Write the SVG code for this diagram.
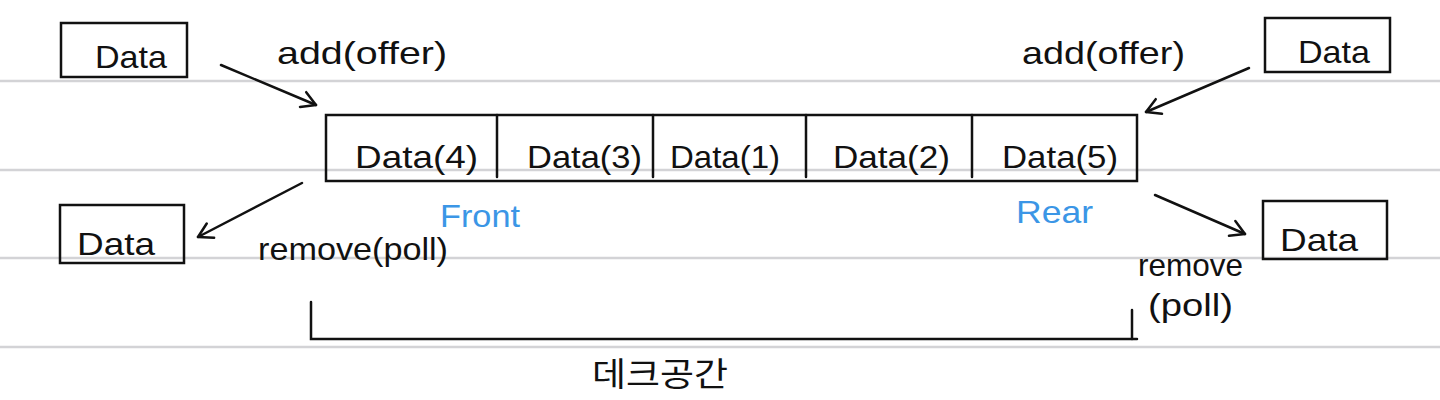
<svg xmlns="http://www.w3.org/2000/svg" width="1440" height="400" viewBox="0 0 1440 400">
<defs>
<style>
.rule{stroke:#d3d3d6;stroke-width:2.5}
.box{fill:none;stroke:#111;stroke-width:2.5}
.ln{stroke:#111;stroke-width:2.5;fill:none;stroke-linecap:round}
.t{font-family:"Liberation Sans","Noto Sans CJK KR",sans-serif;font-size:32px;fill:#111}
.blue{fill:#3b96e6}
.kr{font-family:"Noto Sans CJK KR",sans-serif;font-size:33px;fill:#111}
</style>
<marker id="arr" viewBox="0 0 20 20" refX="18" refY="10" markerWidth="20" markerHeight="20" markerUnits="userSpaceOnUse" orient="auto">
<path d="M4,2 L18,10 L4,18" fill="none" stroke="#111" stroke-width="2.5" stroke-linecap="round" stroke-linejoin="round"/>
</marker>
</defs>
<rect width="1440" height="400" fill="#fff"/>
<g id="rules">
<line class="rule" x1="0" y1="81" x2="1440" y2="81"/>
<line class="rule" x1="0" y1="170" x2="1440" y2="170"/>
<line class="rule" x1="0" y1="258" x2="1440" y2="258"/>
<line class="rule" x1="0" y1="347" x2="1440" y2="347"/>
</g>
<g id="deque">
<rect class="box" x="326" y="115" width="811" height="66"/>
<line class="ln" x1="497" y1="115" x2="497" y2="177"/>
<line class="ln" x1="653" y1="115" x2="653" y2="177"/>
<line class="ln" x1="806" y1="115" x2="806" y2="177"/>
<line class="ln" x1="972" y1="115" x2="972" y2="177"/>
<text class="t" x="355" y="168" textLength="123" lengthAdjust="spacingAndGlyphs">Data(4)</text>
<text class="t" x="527" y="168" textLength="115" lengthAdjust="spacingAndGlyphs">Data(3)</text>
<text class="t" x="670" y="168" textLength="110" lengthAdjust="spacingAndGlyphs">Data(1)</text>
<text class="t" x="833" y="168" textLength="117" lengthAdjust="spacingAndGlyphs">Data(2)</text>
<text class="t" x="1002" y="168" textLength="116" lengthAdjust="spacingAndGlyphs">Data(5)</text>
</g>
<g id="data-top-left">
<rect class="box" x="61" y="23" width="126" height="54"/>
<text class="t" x="95" y="68" textLength="72" lengthAdjust="spacingAndGlyphs">Data</text>
</g>
<g id="data-top-right">
<rect class="box" x="1265" y="18" width="125" height="54"/>
<text class="t" x="1298" y="63" textLength="72" lengthAdjust="spacingAndGlyphs">Data</text>
</g>
<g id="data-bottom-left">
<rect class="box" x="60" y="205" width="124" height="58"/>
<text class="t" x="77" y="255" textLength="78" lengthAdjust="spacingAndGlyphs">Data</text>
</g>
<g id="data-bottom-right">
<rect class="box" x="1263" y="201" width="124" height="58"/>
<text class="t" x="1280" y="251" textLength="78" lengthAdjust="spacingAndGlyphs">Data</text>
</g>
<g id="labels">
<text class="t" x="277" y="64" textLength="170" lengthAdjust="spacingAndGlyphs">add(offer)</text>
<text class="t" x="1022" y="64" textLength="163" lengthAdjust="spacingAndGlyphs">add(offer)</text>
<text class="t" x="258" y="260" textLength="190" lengthAdjust="spacingAndGlyphs">remove(poll)</text>
<text class="t" x="1138" y="276" textLength="105" lengthAdjust="spacingAndGlyphs">remove</text>
<text class="t" x="1148" y="316" textLength="85" lengthAdjust="spacingAndGlyphs">(poll)</text>
<text class="t blue" x="440" y="227" textLength="80" lengthAdjust="spacingAndGlyphs">Front</text>
<text class="t blue" x="1016" y="223" textLength="77" lengthAdjust="spacingAndGlyphs">Rear</text>
<text class="kr" x="592" y="386" textLength="136" lengthAdjust="spacingAndGlyphs">데크공간</text>
</g>
<g id="connectors">
<line class="ln" x1="221" y1="65" x2="316" y2="105" marker-end="url(#arr)"/>
<line class="ln" x1="1249" y1="68" x2="1146" y2="112" marker-end="url(#arr)"/>
<line class="ln" x1="302" y1="183" x2="198" y2="237" marker-end="url(#arr)"/>
<line class="ln" x1="1155" y1="195" x2="1245" y2="234" marker-end="url(#arr)"/>
<polyline class="ln" points="311,302 311,339 1137,339"/>
<line class="ln" x1="1132" y1="310" x2="1132" y2="339"/>
</g>
</svg>
